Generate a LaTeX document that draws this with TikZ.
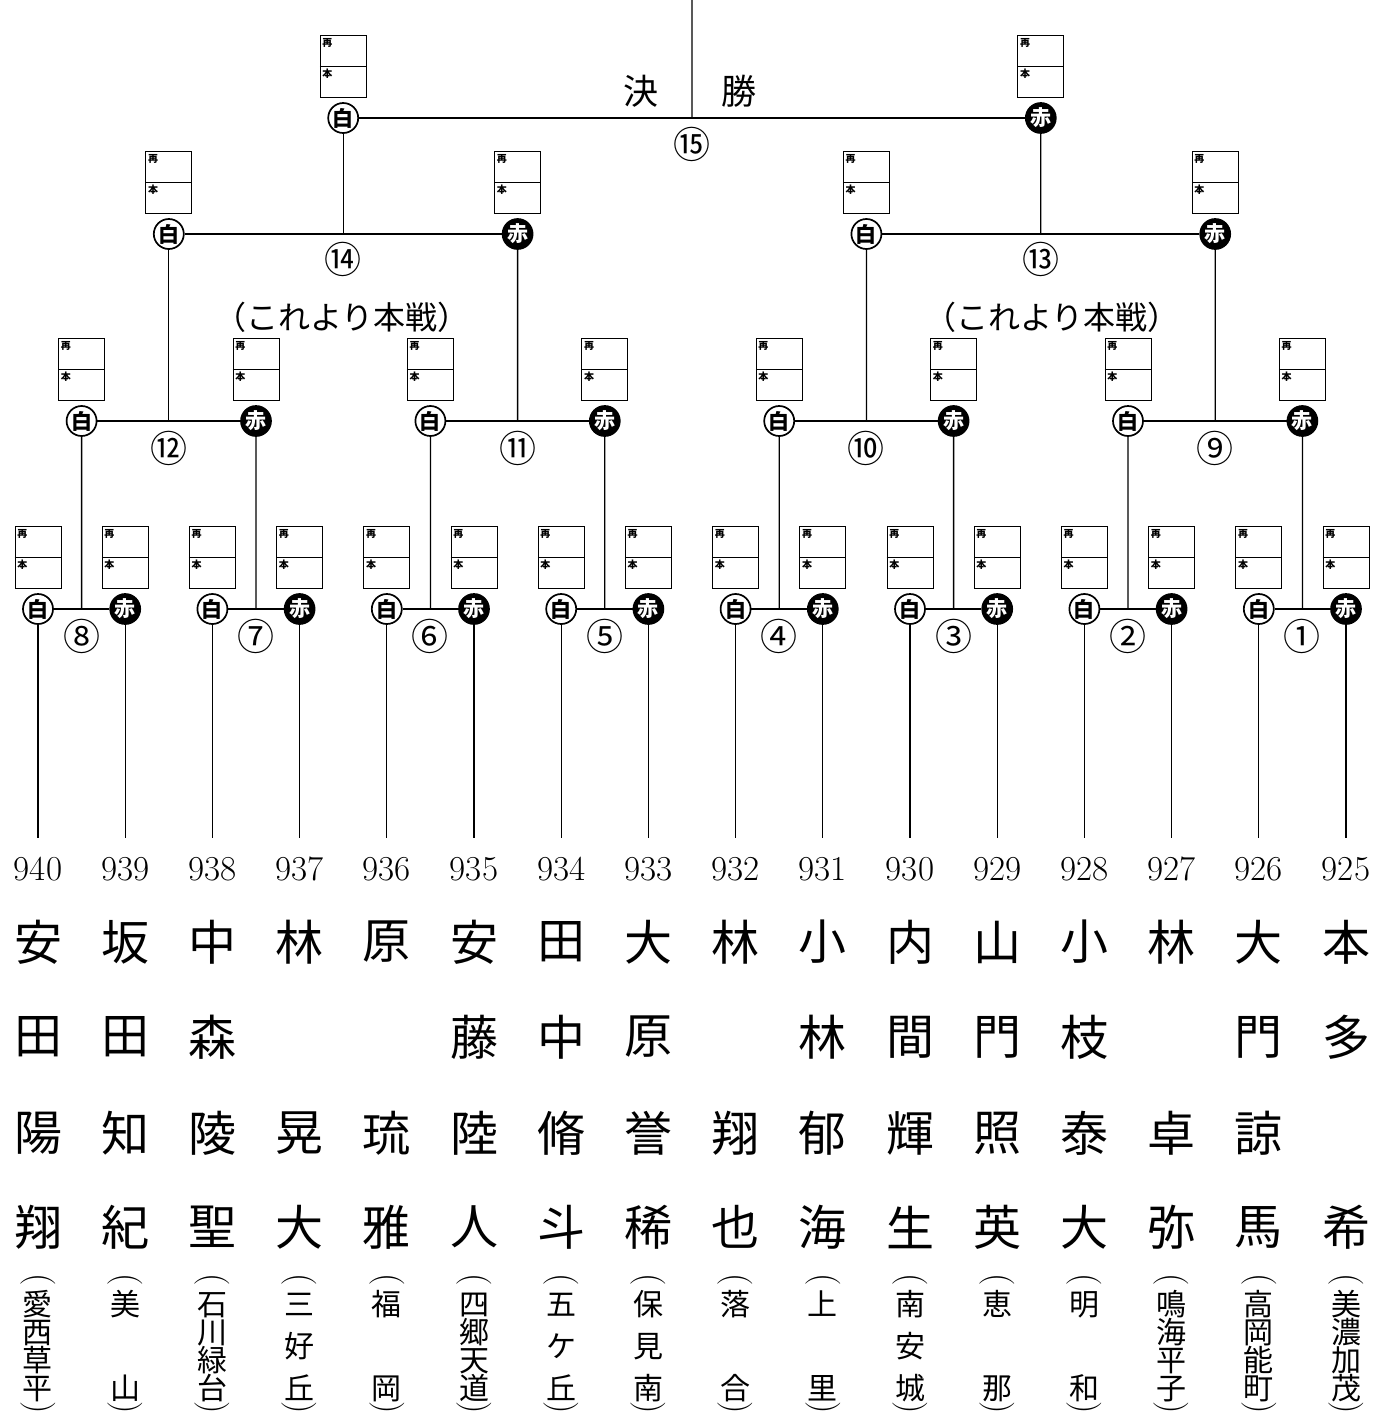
\documentclass[tikz,border=0pt]{standalone}
\usepackage{fontspec}
\newfontfamily\cjk{Noto Sans CJK JP}
\usetikzlibrary{positioning,calc}
\tikzset{
  shiro/.style = {circle, draw=black, fill=white, line width=1.7pt, minimum size=30pt,
                  inner sep=0pt, font=\cjk\bfseries\fontsize{21}{21}\selectfont},
  aka/.style   = {circle, draw=black, fill=black, text=white, line width=1.7pt, minimum size=30pt,
                  inner sep=0pt, font=\cjk\bfseries\fontsize{21}{21}\selectfont},
  scr/.style   = {rectangle, draw=black, line width=0.9pt, minimum width=46pt,
                  minimum height=62pt, inner sep=0pt},
  tag/.style   = {anchor=north west, inner sep=2.5pt, font=\cjk\bfseries\fontsize{10}{10}\selectfont},
  mno/.style   = {inner sep=0pt, font=\cjk\fontsize{37}{37}\selectfont},
  ttl/.style   = {inner sep=0pt, font=\cjk\fontsize{35}{35}\selectfont},
  hon/.style   = {inner sep=0pt, font=\cjk\fontsize{32}{32}\selectfont},
  num/.style   = {inner sep=0pt, font=\fontsize{35}{35}\selectfont},
  nm/.style    = {inner sep=0pt, font=\cjk\fontsize{48}{48}\selectfont},
  sch/.style   = {inner sep=0pt, text height=25pt, text depth=2pt, font=\cjk\fontsize{30}{30}\selectfont},
  par/.style   = {inner sep=0pt, rotate=-90, font=\fontsize{35}{35}\selectfont},
  ln/.style    = {line width=1.3pt, black},
}
% score box above a corner circle
\newcommand\scorebox[1]{%
  \node[scr, above=4pt of #1] (#1-b) {};
  \draw[line width=0.9pt] (#1-b.west) -- (#1-b.east);
  \node[tag] (#1-t) at (#1-b.north west) {再};
  \node[tag] (#1-h) at (#1-b.west) {本};
}

\begin{document}
\begin{tikzpicture}[x=1pt, y=-1pt]
  \useasboundingbox (0,0) rectangle (1391,1416);

  % corners, round by round
  \foreach \i in {1,3,...,15} \node[shiro] (p\i) at ({38+87.2*(\i-1)},609) {白};
  \foreach \i in {2,4,...,16} \node[aka]   (p\i) at ({38+87.2*(\i-1)},609) {赤};
  \foreach \j in {1,3,5,7} \node[shiro] (q\j) at ({81.6+174.4*(\j-1)},421) {白};
  \foreach \j in {2,4,6,8} \node[aka]   (q\j) at ({81.6+174.4*(\j-1)},421) {赤};
  \node[shiro] (r1) at (168.8,234) {白};
  \node[aka]   (r2) at (517.6,234) {赤};
  \node[shiro] (r3) at (866.4,234) {白};
  \node[aka]   (r4) at (1215.2,234) {赤};
  \node[shiro] (s1) at (343.2,118) {白};
  \node[aka]   (s2) at (1040.8,118) {赤};
  \coordinate (top) at (692,0);

  \foreach \i in {1,...,16} {\scorebox{p\i}}
  \foreach \j in {1,...,8} {\scorebox{q\j}}
  \foreach \k in {1,...,4} {\scorebox{r\k}}
  \scorebox{s1}
  \scorebox{s2}

  % matches
  \foreach \j/\lb in {1/⑧,2/⑦,3/⑥,4/⑤,5/④,6/③,7/②,8/①} {
    \pgfmathtruncatemacro\ma{2*\j-1}
    \pgfmathtruncatemacro\mb{2*\j}
    \draw[ln] (p\ma) -- (p\mb);
    \draw[ln] ($(p\ma)!0.5!(p\mb)$) -- (q\j);
    \node[mno] (m\j) at ($(p\ma)!0.5!(p\mb)+(0,27)$) {\lb};
  }
  \foreach \j/\lb in {1/⑫,2/⑪,3/⑩,4/⑨} {
    \pgfmathtruncatemacro\ma{2*\j-1}
    \pgfmathtruncatemacro\mb{2*\j}
    \draw[ln] (q\ma) -- (q\mb);
    \draw[ln] ($(q\ma)!0.5!(q\mb)$) -- (r\j);
    \node[mno] (mq\j) at ($(q\ma)!0.5!(q\mb)+(0,27)$) {\lb};
  }
  \draw[ln] (r1) -- (r2);
  \draw[ln] ($(r1)!0.5!(r2)$) -- (s1);
  \node[mno] (mr1) at ($(r1)!0.5!(r2)+(0,25)$) {⑭};
  \draw[ln] (r3) -- (r4);
  \draw[ln] ($(r3)!0.5!(r4)$) -- (s2);
  \node[mno] (mr2) at ($(r3)!0.5!(r4)+(0,25)$) {⑬};
  \draw[ln] (s1) -- (s2);
  \draw[ln] ($(s1)!0.5!(s2)$) -- (top);
  \node[mno] (ms) at ($(s1)!0.5!(s2)+(0,26)$) {⑮};

  \node[ttl] (ketsu) at (641,91) {決};
  \node[ttl] (sho) at (739,91) {勝};
  \node[hon] (honL) at (342,317) {（これより本戦）};
  \node[hon] (honR) at (1052,317) {（これより本戦）};

  % entries
  \foreach \na/\nb/\nc/\nd [count=\i] in {安/田/陽/翔, 坂/田/知/紀, 中/森/陵/聖, 林/{}/晃/大,
      原/{}/琉/雅, 安/藤/陸/人, 田/中/脩/斗, 大/原/誉/稀, 林/{}/翔/也, 小/林/郁/海,
      内/間/輝/生, 山/門/照/英, 小/枝/泰/大, 林/{}/卓/弥, 大/門/諒/馬, 本/多/{}/希} {
    \pgfmathsetmacro\px{38+87.2*(\i-1)}
    \pgfmathtruncatemacro\nn{941-\i}
    \coordinate (e\i) at (\px,838);
    \draw[ln] (p\i) -- (e\i);
    \node[num] (n\i) at (\px,869) {\nn};
    \node[nm] (a\i) at (\px,942) {\na};
    \node[nm] (b\i) at (\px,1037) {\nb};
    \node[nm] (c\i) at (\px,1133) {\nc};
    \node[nm] (d\i) at (\px,1227) {\nd};
  }
  \foreach \sc/\sn [count=\i] in {{愛,西,草,平}/4, {美,山}/2, {石,川,緑,台}/4, {三,好,丘}/3,
      {福,岡}/2, {四,郷,天,道}/4, {五,ケ,丘}/3, {保,見,南}/3, {落,合}/2, {上,里}/2,
      {南,安,城}/3, {恵,那}/2, {明,和}/2, {鳴,海,平,子}/4, {高,岡,能,町}/4, {美,濃,加,茂}/4} {
    \pgfmathsetmacro\px{38+87.2*(\i-1)}
    \node[par] (o\i) at (\px,1280) {(};
    \foreach \ch [count=\k] in \sc
      \node[sch] (h\i-\k) at (\px,{1304+84*(\k-1)/(\sn-1)}) {\ch};
    \node[par] (x\i) at (\px,1408) {)};
  }
\end{tikzpicture}
\end{document}
